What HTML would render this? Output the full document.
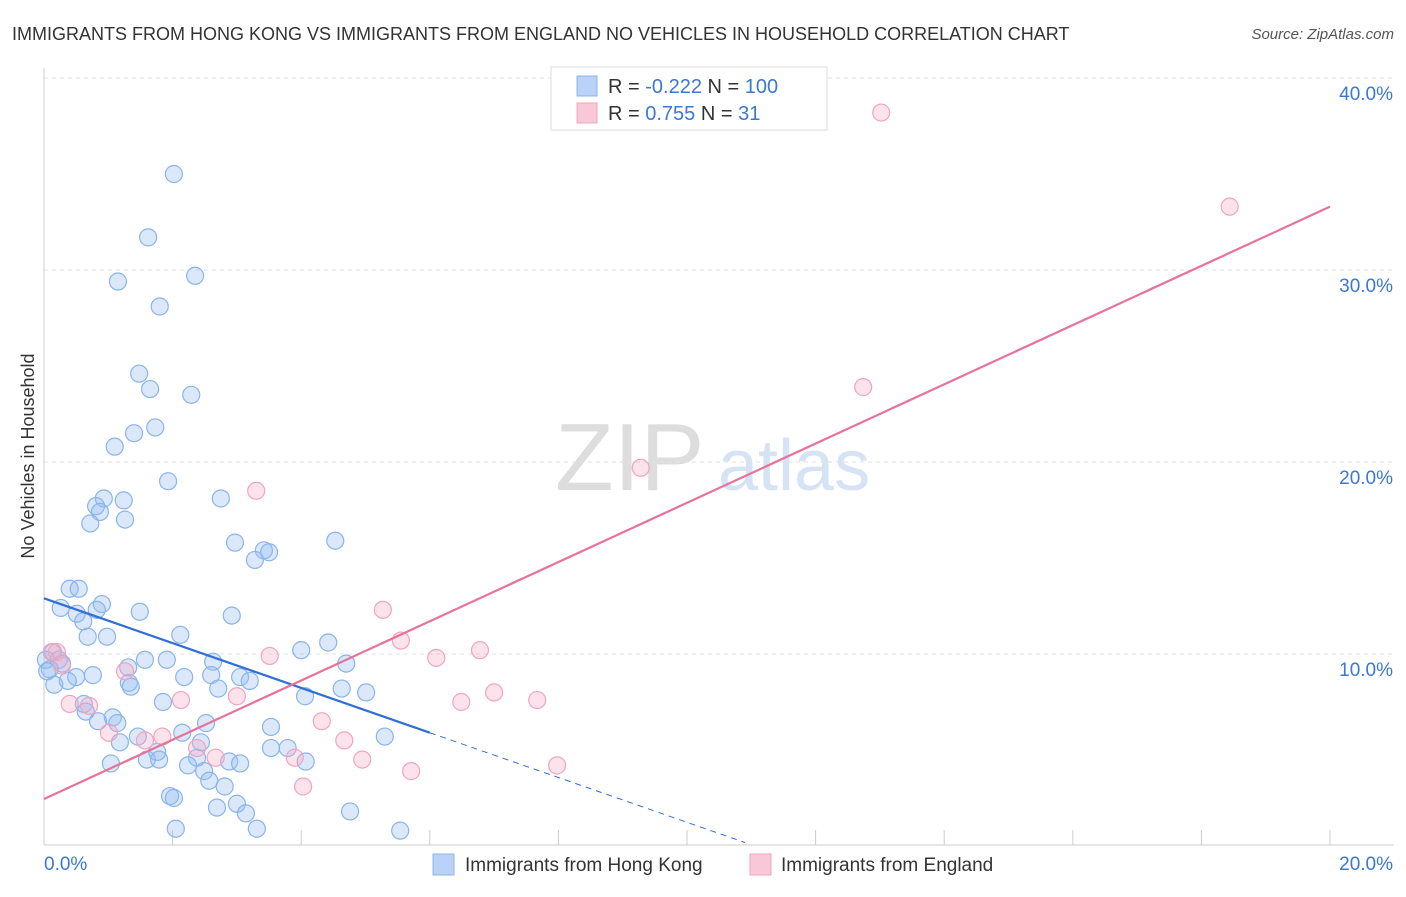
<!DOCTYPE html>
<html><head><meta charset="utf-8"><style>
body{margin:0;background:#fff;font-family:"Liberation Sans",sans-serif;}
svg text{font-family:"Liberation Sans",sans-serif;}
</style></head><body>
<svg id="chart" width="1406" height="892">
<text x="12" y="40" font-size="18" fill="#333">IMMIGRANTS FROM HONG KONG VS IMMIGRANTS FROM ENGLAND NO VEHICLES IN HOUSEHOLD CORRELATION CHART</text>
<text x="1394" y="39" font-size="15" fill="#555" text-anchor="end" font-style="italic">Source: ZipAtlas.com</text>
<text x="34" y="456" font-size="18" fill="#333" text-anchor="middle" transform="rotate(-90 34 456)">No Vehicles in Household</text>
<g><text x="555" y="490" font-size="96" fill="#ddd" font-family="Liberation Serif">ZIP</text><text x="718" y="490" font-size="72" fill="#d5e3f5">atlas</text></g>
<g id="grid"></g><g id="marks"></g>
<g>
<rect x="551" y="67" width="276" height="63" fill="#fff" stroke="#ddd"/>
<rect x="577" y="76" width="20" height="20" fill="#b9d2f5" stroke="#8ab4ec"/>
<rect x="577" y="103" width="20" height="20" fill="#f9c8d7" stroke="#f0a5bf"/>
<text x="608" y="93" font-size="20" fill="#333">R = <tspan fill="#3a78d4">-0.222</tspan>   N = <tspan fill="#3a78d4">100</tspan></text>
<text x="608" y="120" font-size="20" fill="#333">R = <tspan fill="#3a78d4"> 0.755</tspan>   N = <tspan fill="#3a78d4">   31</tspan></text>
</g>
<g>
<rect x="433" y="854" width="21" height="21" fill="#b9d2f5" stroke="#8ab4ec"/>
<text x="465" y="871" font-size="19" fill="#333">Immigrants from Hong Kong</text>
<rect x="750" y="854" width="21" height="21" fill="#f9c8d7" stroke="#f0a5bf"/>
<text x="781" y="871" font-size="19" fill="#333">Immigrants from England</text>
</g>
</svg>
<script>
const xTicks=[0,2,4,6,8,10,12,14,16,18,20];
const yTicks=[10,20,30,40];
const yTickLabels=["10.0%","20.0%","30.0%","40.0%"];
const blueX=[2.02,1.62,1.15,2.35,1.80,1.48,1.65,2.29,1.73,1.40,1.10,1.93,0.93,0.81,1.24,2.75,0.87,0.72,1.26,2.97,3.42,3.50,3.28,4.53,0.40,0.54,0.26,0.90,0.82,0.51,0.61,1.49,2.92,0.68,0.98,2.12,4.00,4.42,0.14,0.23,0.03,0.28,1.57,1.91,2.63,4.70,0.09,0.05,1.31,0.50,0.76,0.37,2.18,2.60,3.05,3.20,0.16,1.32,1.35,2.71,4.63,5.01,4.06,1.85,0.62,0.65,1.07,0.84,1.14,2.52,3.53,1.46,2.15,5.30,1.18,2.44,1.04,1.60,1.76,1.79,2.38,2.24,2.88,3.05,3.53,3.79,4.07,2.49,2.57,2.81,1.96,2.02,3.00,2.69,3.14,4.76,2.05,3.31,5.54];
const blueY=[35.0,31.7,29.4,29.7,28.1,24.6,23.8,23.5,21.8,21.5,20.8,19.0,18.1,17.7,18.0,18.1,17.4,16.8,17.0,15.8,15.4,15.3,14.9,15.9,13.4,13.4,12.4,12.6,12.3,12.1,11.7,12.2,12.0,10.9,10.9,11.0,10.2,10.6,10.1,9.7,9.7,9.5,9.7,9.7,9.6,9.5,9.2,9.1,9.3,8.8,8.9,8.6,8.8,8.9,8.8,8.6,8.4,8.5,8.3,8.2,8.2,8.0,7.8,7.5,7.4,7.0,6.7,6.5,6.4,6.4,6.2,5.7,5.9,5.7,5.4,5.4,4.3,4.5,4.9,4.5,4.6,4.2,4.4,4.3,5.1,5.1,4.4,3.9,3.4,3.1,2.6,2.5,2.2,2.0,1.7,1.8,0.9,0.9,0.8];
const pinkX=[13.02,18.44,12.74,9.28,3.30,5.27,5.55,0.12,0.20,3.51,6.78,6.10,0.28,1.26,2.13,3.00,7.00,6.49,7.67,0.40,0.70,4.32,4.67,1.84,1.01,1.57,2.38,2.67,3.90,4.95,5.71,4.03,7.98];
const pinkY=[38.2,33.3,23.9,19.7,18.5,12.3,10.7,10.1,10.1,9.9,10.2,9.8,9.4,9.1,7.6,7.8,8.0,7.5,7.6,7.4,7.3,6.5,5.5,5.7,5.9,5.5,5.1,4.6,4.6,4.5,3.9,3.1,4.2];
const blueTrend=[12.9,5.9]; // y at x=0 and x=6 (solid end)
const blueTrendEnd=10.9;
const pinkTrend=[2.45,33.3]; // y at x=0 and x=20
const NS="http://www.w3.org/2000/svg";
const X=v=>44+v*64.3, Y=v=>846-v*19.2;
const grid=document.getElementById('grid'), marks=document.getElementById('marks');
function mk(tag,attrs,parent){const e=document.createElementNS(NS,tag);for(const k in attrs)e.setAttribute(k,attrs[k]);parent.appendChild(e);return e;}
yTicks.forEach((t,i)=>{
 const l=mk('line',{x1:44,x2:1394,y1:Y(t),y2:Y(t),stroke:'#e2e2e2','stroke-dasharray':'4,4'},grid);
 
 
 const tx=mk('text',{x:1393,y:Y(t)+22,'font-size':19,fill:'#3a78d4','text-anchor':'end'},grid);
 tx.textContent=yTickLabels[i];
 
 
});
const ax=mk('line',{x1:44,x2:1394,y1:845,y2:845,stroke:'#ccc'},grid);


const ay=mk('line',{x1:44,x2:44,y1:68,y2:845,stroke:'#ccc'},grid);


xTicks.forEach(t=>{
 const l=mk('line',{x1:X(t),x2:X(t),y1:830,y2:845,stroke:'#ccc'},grid);
 
 
});
const xl0=mk('text',{x:44,y:870,'font-size':19,fill:'#3a78d4'},grid);xl0.textContent='0.0%';


const xl1=mk('text',{x:1393,y:870,'font-size':19,fill:'#3a78d4','text-anchor':'end'},grid);xl1.textContent='20.0%';


blueX.forEach((v,i)=>{
 const c=mk('circle',{cx:X(v),cy:Y(blueY[i]),r:8.5,fill:'rgba(150,188,240,0.35)',stroke:'#8ab4ec','stroke-width':1.2},marks);
 
 
});
pinkX.forEach((v,i)=>{
 const c=mk('circle',{cx:X(v),cy:Y(pinkY[i]),r:8.5,fill:'rgba(246,172,197,0.35)',stroke:'#f0a5bf','stroke-width':1.2},marks);
 
 
});
const bs=(blueTrend[1]-blueTrend[0])/6;
const bl=mk('line',{x1:X(0),y1:Y(blueTrend[0]),x2:X(6),y2:Y(blueTrend[1]),stroke:'#2f6fd6','stroke-width':2.2},marks);


const bd=mk('line',{x1:X(6),y1:Y(blueTrend[1]),x2:X(blueTrendEnd),y2:Y(blueTrend[0]+bs*blueTrendEnd),stroke:'#2f6fd6','stroke-width':1,'stroke-dasharray':'6,5'},marks);


const pl=mk('line',{x1:X(0),y1:Y(pinkTrend[0]),x2:X(20),y2:Y(pinkTrend[1]),stroke:'#e8729a','stroke-width':2.2},marks);


</script>
</body></html>
